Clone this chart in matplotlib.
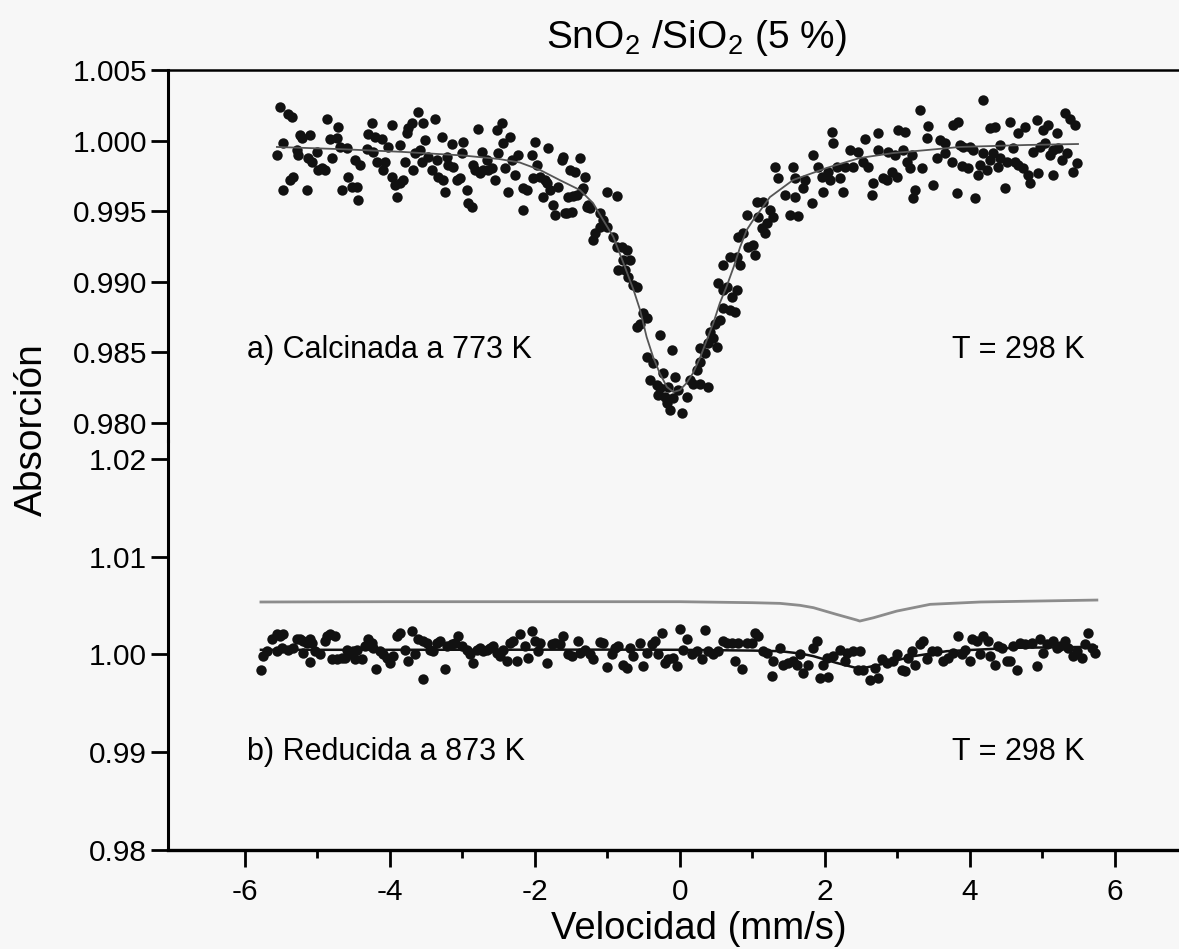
import matplotlib
matplotlib.use("Agg")
import matplotlib.pyplot as plt
from matplotlib.ticker import FormatStrFormatter, FixedLocator

plt.rcParams['font.family'] = ['Liberation Sans', 'DejaVu Sans']
plt.rcParams['mathtext.fontset'] = 'custom'
plt.rcParams['mathtext.rm'] = 'Liberation Sans'
plt.rcParams['mathtext.it'] = 'Liberation Sans:italic'
plt.rcParams['axes.unicode_minus'] = False

# ---------------- data: (a) calcinada a 773 K ----------------
calc_vel = [
    -5.517, -5.402, -5.356, -5.554, -5.471, -5.480, -5.379, -5.333, -5.241, -5.218,
    -5.103, -5.287, -5.264, -5.149, -5.126, -5.080, -5.012, -4.989, -4.943, -4.897,
    -4.864, -4.828, -4.805, -4.736, -4.713, -4.690, -4.667, -4.598, -4.575, -4.529,
    -4.483, -4.460, -4.437, -4.414, -4.322, -4.299, -4.253, -4.230, -4.207, -4.184,
    -4.115, -4.092, -4.069, -4.023, -3.977, -3.977, -3.931, -3.908, -3.862, -3.862,
    -3.816, -3.793, -3.770, -3.747, -3.701, -3.678, -3.655, -3.609, -3.586, -3.563,
    -3.540, -3.517, -3.471, -3.425, -3.379, -3.356, -3.333, -3.287, -3.264, -3.241,
    -3.218, -3.195, -3.149, -3.126, -3.081, -3.035, -3.012, -2.989, -2.943, -2.920,
    -2.874, -2.851, -2.828, -2.782, -2.759, -2.736, -2.713, -2.667, -2.644, -2.598,
    -2.552, -2.529, -2.506, -2.460, -2.437, -2.414, -2.368, -2.345, -2.322, -2.276,
    -2.230,
    -2.161, -2.115, -2.161, -2.046, -2.000, -1.977, -2.023, -1.931, -1.862, -1.816,
    -1.793, -1.885, -1.747, -1.724, -1.678, -1.632, -1.609, -1.586, -1.517, -1.494,
    -1.448, -1.425, -1.380, -1.357, -1.311, -1.288, -1.242, -1.012, -0.874,
    -1.839, -1.540, -1.471, -1.563, -1.265, -1.334,
    -1.104, -1.058, -1.012, -1.104, -1.173, -1.196, -0.920, -0.874, -0.805, -0.736,
    -0.782, -0.851, -0.759, -0.690, -0.713, -0.644, -0.598, -0.506, -0.460, -0.552,
    -0.598, -0.276, -0.115, -0.460, -0.368, -0.414, -0.322, -0.230, -0.161, -0.276,
    -0.299, -0.207, -0.184, -0.138, -0.092, -0.069, 0.023, -0.023, 0.092, 0.138,
    0.184, 0.276, 0.391,
    0.230, 0.276, 0.276, 0.345, 0.391, 0.414, 0.460, 0.506, 0.483, 0.552,
    0.598, 0.529, 0.598, 0.644, 0.690, 0.759, 0.713, 0.782, 0.598, 0.690,
    0.782, 0.828, 0.805, 0.873, 0.942, 1.011, 1.034, 0.919, 1.080, 1.126,
    1.195, 1.172, 1.057, 1.149, 1.241, 1.287, 1.310, 1.356,
    1.517, 1.632, 1.563, 1.586, 1.448, 1.586, 1.701, 1.724, 1.816, 1.839,
    1.908, 1.954, 1.977, 2.046, 2.069, 2.115, 2.092, 2.160, 2.206, 2.252,
    2.275, 2.344, 2.390, 2.459, 2.528, 2.551, 2.597, 2.643, 2.666, 2.735,
    2.735, 2.804, 2.850, 2.873, 2.919, 2.965, 2.988, 3.011, 3.080, 3.103,
    3.126, 3.172, 3.195, 3.218, 3.241, 3.310, 3.333, 3.402, 3.425, 3.494,
    3.540, 3.586, 3.655, 3.747, 3.770, 3.816, 3.839, 3.885, 3.908, 3.977,
    4.046, 4.069, 4.115, 4.138, 4.183, 4.183, 4.229, 4.275, 4.344, 4.321,
    4.390, 4.413, 4.482, 4.505, 4.551, 4.620, 4.666, 4.666, 4.735, 4.758,
    4.804, 4.827, 4.873, 4.919, 4.942, 5.011, 5.034, 5.080, 5.103, 5.149,
    5.195, 5.218, 5.264, 5.310, 5.333, 5.379, 5.425, 5.448, 5.471,
    3.862, 4.000, 4.597, 4.965, 5.149, 3.655, 4.275, 4.413,
]
calc_abs = [
    1.00235, 1.00188, 1.00169, 0.99898, 0.99980, 0.99650, 0.99721, 0.99739, 1.00039, 1.00016,
    1.00039, 0.99933, 0.99898, 0.99650, 0.99874, 0.99850, 0.99921, 0.99791, 0.99803, 0.99791,
    1.00153, 1.00009, 0.99874, 1.00016, 1.00098, 0.99957, 0.99650, 0.99945, 0.99744, 0.99673,
    0.99862, 0.99673, 0.99579, 0.99827, 0.99938, 1.00044, 1.00127, 0.99921, 1.00027, 0.99850,
    1.00009, 0.99791, 0.99850, 0.99952, 1.00110, 0.99744, 0.99685, 0.99602, 0.99697, 0.99968,
    0.99721, 0.99850, 1.00051, 1.00087, 1.00122, 0.99791, 0.99909, 1.00205, 0.99933, 0.99850,
    1.00127, 1.00004, 0.99886, 0.99791, 1.00150, 0.99862, 0.99744, 1.00023, 0.99721, 0.99638,
    0.99886, 0.99827, 0.99976, 0.99815, 0.99721, 0.99732, 0.99909, 0.99992, 0.99650, 0.99555,
    0.99532, 0.99827, 0.99791, 1.00079, 0.99768, 0.99921, 0.99791, 0.99862, 0.99791, 0.99803,
    0.99721, 1.00075, 0.99909, 1.00127, 0.99980, 0.99803, 0.99638, 1.00023, 0.99862, 0.99756,
    0.99898,
    0.99662, 0.99650, 0.99508, 0.99898, 0.99992, 0.99827, 0.99732, 0.99744, 0.99721, 0.99945,
    0.99650, 0.99602, 0.99543, 0.99473, 0.99673, 0.99862, 0.99886, 0.99484, 0.99791, 0.99496,
    0.99780, 0.99614, 0.99874, 0.99650, 0.99744, 0.99532, 0.99520, 0.99638, 0.99607,
    0.99697, 0.99602, 0.99607, 0.99489, 0.99543, 0.99662,
    0.99484, 0.99437, 0.99390, 0.99390, 0.99343, 0.99296, 0.99319, 0.99248, 0.99248, 0.99225,
    0.99154, 0.99083, 0.99083, 0.99154, 0.99036, 0.98977, 0.98965, 0.98776, 0.98741, 0.98705,
    0.98682, 0.98623, 0.98516, 0.98469, 0.98422, 0.98304, 0.98269, 0.98351, 0.98257, 0.98245,
    0.98198, 0.98186, 0.98139, 0.98092, 0.98174, 0.98328, 0.98068, 0.98233, 0.98186, 0.98304,
    0.98280, 0.98280, 0.98257,
    0.98375, 0.98434, 0.98528, 0.98493, 0.98564, 0.98646, 0.98599, 0.98540, 0.98705, 0.98729,
    0.98812, 0.98989, 0.98941, 0.98965, 0.98800, 0.98788, 0.98894, 0.98941, 0.99119, 0.99178,
    0.99178, 0.99119, 0.99319, 0.99343, 0.99248, 0.99260, 0.99189, 0.99473, 0.99461, 0.99378,
    0.99414, 0.99343, 0.99567, 0.99567, 0.99508, 0.99461, 0.99815, 0.99732,
    0.99473, 0.99466, 0.99810, 0.99732, 0.99614, 0.99602, 0.99662, 0.99721, 0.99560, 0.99898,
    0.99815, 0.99739, 0.99638, 0.99780, 0.99721, 0.99980, 1.00063, 0.99815, 0.99732, 0.99638,
    0.99815, 0.99933, 0.99815, 0.99921, 0.99850, 1.00009, 0.99815, 0.99614, 0.99697, 1.00056,
    0.99933, 0.99732, 0.99721, 0.99921, 0.99780, 0.99898, 0.99744, 1.00075, 0.99933, 1.00063,
    0.99850, 0.99803, 0.99898, 0.99591, 0.99650, 1.00216, 0.99803, 1.00016, 1.00103, 0.99685,
    0.99874, 1.00004, 0.99980, 0.99850, 1.00110, 0.99626, 1.00134, 0.99820, 0.99957, 0.99803,
    0.99933, 0.99591, 0.99756, 0.99827, 1.00287, 0.99909, 0.99791, 1.00087, 1.00098, 0.99909,
    0.99815, 0.99968, 0.99662, 0.99850, 1.00134, 0.99850, 0.99827, 1.00051, 0.99803, 1.00098,
    0.99756, 0.99697, 0.99921, 1.00146, 0.99768, 1.00075, 0.99980, 1.00110, 0.99898, 0.99756,
    1.00051, 0.99945, 0.99862, 1.00193, 0.99909, 1.00150, 0.99780, 1.00110, 0.99839,
    0.99968, 0.99957, 0.99945, 0.99957, 0.99933, 0.99909, 0.99862, 0.99874,
]
calc_fit_vel = [-5.56, -4.70, -3.86, -3.00, -2.50, -2.21, -1.93, -1.66, -1.38, -1.20,
                -1.06, -0.92, -0.78, -0.64, -0.55, -0.46, -0.37, -0.28, -0.18, -0.09,
                0.00, 0.09, 0.18, 0.28, 0.37, 0.46, 0.55, 0.64, 0.74, 0.83,
                0.92, 1.01, 1.10, 1.24, 1.56, 2.02, 2.48, 2.94, 3.40, 3.86,
                4.32, 4.78, 5.49]
calc_fit_abs = [0.99955, 0.99940, 0.99921, 0.99895, 0.99870, 0.99845, 0.99792, 0.99721, 0.99650, 0.99558,
                0.99438, 0.99319, 0.99133, 0.98942, 0.98800, 0.98609, 0.98467, 0.98354, 0.98255, 0.98220,
                0.98234, 0.98283, 0.98354, 0.98467, 0.98588, 0.98708, 0.98850, 0.98963, 0.99105, 0.99247,
                0.99367, 0.99438, 0.99500, 0.99600, 0.99721, 0.99806, 0.99877, 0.99912, 0.99933, 0.99955,
                0.99962, 0.99969, 0.99976]

# ---------------- data: (b) reducida a 873 K ----------------
red_vel = [
    -5.784, -5.747, -5.701, -5.632, -5.563, -5.517, -5.471, -5.563, -5.494, -5.402,
    -5.333, -5.287, -5.241, -5.195, -5.149, -5.103, -5.080, -5.195, -5.103, -5.034,
    -4.966, -4.897, -4.874, -4.828, -4.759, -4.805, -4.736, -4.667, -4.621, -4.598,
    -4.552, -4.506, -4.460, -4.483, -4.391, -4.345, -4.299, -4.253, -4.230, -4.198,
    -4.138, -4.092, -4.046, -4.000, -3.954, -3.908, -3.862, -3.793, -3.747, -3.701,
    -3.655, -3.609, -3.540, -3.494, -3.540, -3.448, -3.402, -3.356, -3.310, -3.241,
    -3.218, -3.149, -3.103, -3.057, -3.012, -2.943, -2.897, -2.851, -2.805, -2.759,
    -2.713, -2.667, -2.621, -2.575, -2.529, -2.483, -2.437, -2.391, -2.345, -2.299,
    -2.253,
    -2.207, -2.092, -2.046, -2.138, -2.000, -1.931, -1.954, -1.839, -1.770, -1.724,
    -1.655, -1.609, -1.540, -1.494, -1.403, -1.380, -1.311, -1.242, -1.196, -1.104,
    -1.058, -1.012, -0.943, -0.897, -0.851, -0.782, -0.736, -0.690, -0.644, -0.552,
    -0.506, -0.460, -0.391, -0.345, -0.299, -0.253, -0.207, -0.161, -0.092, -0.046,
    0.000, 0.046, 0.092, 0.161, 0.230, 0.299, 0.345, 0.391, 0.460, 0.529,
    0.598, 0.644, 0.713, 0.759, 0.805, 0.850, 0.919, 0.988, 1.034, 1.080,
    1.149, 1.195, 1.264, 1.287, 1.379, 1.425, 1.494, 1.563, 1.609,
    1.701, 1.655, 1.770, 1.839, 1.885, 1.977, 1.931, 2.046, 2.023, 2.115,
    2.207, 2.276, 2.299, 2.391, 2.482, 2.459, 2.528, 2.620, 2.689, 2.735,
    2.781, 2.850, 2.942, 2.988, 3.057, 3.103, 3.149, 3.195, 3.241, 3.310,
    3.356, 3.402, 3.471, 3.540, 3.632, 3.701, 3.770, 3.839, 3.885, 3.931,
    3.996, 4.023, 4.092, 4.184, 4.253, 4.138, 4.276, 4.345, 4.391, 4.437,
    4.505, 4.551, 4.597, 4.643, 4.689, 4.758, 4.850, 4.919, 4.965, 5.011,
    5.057, 5.149, 5.195, 5.241, 5.310, 5.356, 5.425, 5.471, 5.540, 5.586,
    5.632, 5.678, 5.724,
]
red_abs = [
    0.99839, 0.99983, 1.00034, 1.00154, 1.00205, 1.00188, 1.00205, 1.00034, 1.00068, 1.00051,
    1.00068, 1.00154, 1.00154, 1.00137, 1.00120, 1.00154, 1.00120, 1.00017, 0.99921, 1.00034,
    1.00000, 1.00137, 1.00188, 1.00205, 1.00188, 0.99949, 0.99949, 0.99966, 0.99966, 1.00051,
    1.00000, 1.00034, 1.00051, 0.99949, 0.99949, 1.00085, 1.00154, 1.00120, 1.00068, 0.99853,
    1.00034, 1.00000, 0.99966, 0.99914, 0.99983, 1.00188, 1.00222, 1.00051, 0.99932, 1.00239,
    1.00000, 1.00154, 1.00137, 1.00120, 0.99750, 1.00051, 1.00034, 1.00120, 1.00137, 0.99856,
    1.00085, 1.00103, 1.00120, 1.00188, 1.00085, 1.00051, 1.00000, 0.99914, 1.00051, 1.00068,
    1.00034, 1.00051, 1.00068, 1.00085, 1.00017, 0.99983, 1.00051, 0.99938, 1.00120, 1.00137,
    0.99932,
    1.00205, 0.99966, 1.00239, 1.00085, 1.00137, 1.00120, 1.00034, 0.99914, 1.00103, 1.00120,
    1.00103, 1.00188, 1.00000, 0.99983, 1.00137, 1.00017, 1.00051, 1.00000, 0.99949, 1.00127,
    1.00120, 0.99873, 1.00000, 1.00068, 1.00085, 0.99897, 0.99863, 1.00068, 0.99983, 1.00120,
    0.99887, 1.00017, 1.00103, 1.00137, 1.00000, 1.00222, 0.99914, 0.99949, 0.99966, 0.99887,
    1.00263, 1.00051, 1.00154, 1.00000, 1.00034, 0.99949, 1.00250, 1.00034, 1.00000, 1.00034,
    1.00137, 1.00120, 1.00120, 0.99932, 1.00120, 0.99853, 1.00120, 1.00120, 1.00222, 1.00188,
    1.00034, 1.00017, 0.99785, 0.99932, 1.00068, 0.99897, 0.99914, 0.99932, 0.99897,
    0.99812, 1.00000, 0.99897, 1.00068, 1.00137, 0.99897, 0.99761, 0.99771, 0.99966, 0.99983,
    1.00051, 0.99932, 1.00017, 1.00034, 1.00034, 0.99846, 0.99846, 0.99744, 0.99863, 0.99761,
    0.99949, 0.99914, 0.99932, 1.00000, 0.99846, 0.99829, 0.99966, 1.00034, 0.99897, 1.00103,
    1.00137, 0.99949, 1.00034, 1.00034, 0.99932, 0.99966, 1.00017, 1.00188, 1.00000, 1.00051,
    0.99932, 1.00154, 1.00137, 1.00188, 1.00137, 1.00000, 0.99983, 0.99897, 1.00085, 1.00068,
    0.99932, 0.99932, 1.00085, 0.99846, 1.00120, 1.00103, 1.00120, 0.99880, 1.00154, 1.00017,
    1.00103, 1.00137, 1.00068, 1.00085, 1.00137, 1.00068, 0.99983, 1.00034, 0.99966, 1.00103,
    1.00222, 1.00068, 1.00017,
]
red_fit_vel = [-5.78, -4.00, -2.00, -1.00, 0.00, 1.00, 1.38, 1.66, 1.84, 2.16,
               2.48, 2.76, 3.22, 3.68, 4.60, 5.75]
red_fit_abs = [1.00048, 1.00048, 1.00049, 1.00050, 1.00048, 1.00040, 1.00034, 1.00010, 0.99983, 0.99914,
               0.99853, 0.99897, 0.99983, 1.00034, 1.00068, 1.00079]
ref_vel = [-5.78, -4.00, -2.00, 0.00, 1.00, 1.38, 1.655, 1.84, 2.16, 2.44,
           2.48, 2.67, 2.99, 3.45, 4.14, 5.75]
ref_abs = [1.00537, 1.00540, 1.00540, 1.00540, 1.00530, 1.00523, 1.00503, 1.00479, 1.00410, 1.00352,
           1.00342, 1.00376, 1.00444, 1.00513, 1.00537, 1.00557]

x_major = [-6, -4, -2, 0, 2, 4, 6]
x_minor = [-5, -3, -1, 1, 3, 5]
top_yticks = [0.980, 0.985, 0.990, 0.995, 1.000, 1.005]
bot_yticks = [0.98, 0.99, 1.00, 1.01, 1.02]

# ---------------- figure ----------------
W, H = 1179, 949
fig = plt.figure(figsize=(W / 100, H / 100), dpi=100, facecolor='#f7f7f7')
L = 168 / W
axt = fig.add_axes([L, 1 - 441 / H, 1 - L, (441 - 70) / H])
axb = fig.add_axes([L, 1 - 850 / H, 1 - L, (850 - 441) / H])

xlim = (-7.062, 6.883)
for ax in (axt, axb):
    ax.set_facecolor('none')
    ax.set_xlim(*xlim)
    ax.spines['right'].set_visible(False)
    ax.spines['left'].set_linewidth(2.2)
    ax.tick_params(axis='y', direction='out', length=12, width=2, pad=3, labelsize=21.5)

# top panel
axt.set_ylim(0.97873, 1.005)
axt.spines['bottom'].set_visible(False)
axt.spines['top'].set_linewidth(1.8)
axt.tick_params(axis='x', bottom=False, labelbottom=False)
axt.set_yticks(top_yticks)
axt.yaxis.set_major_formatter(FormatStrFormatter('%.3f'))
axt.plot(calc_vel, calc_abs, 'o', color='#111111', ms=7.5, mec='none', zorder=2)
axt.plot(calc_fit_vel, calc_fit_abs, '-', color='#555555', lw=1.3, zorder=3)
axt.text(-5.97, 0.98517, 'a) Calcinada a 773 K', fontsize=22, va='center', ha='left')
axt.text(5.586, 0.98517, 'T = 298 K', fontsize=22, va='center', ha='right')

# bottom panel
axb.set_ylim(0.98, 1.02184)
axb.spines['top'].set_visible(False)
axb.spines['bottom'].set_linewidth(2.4)
axb.set_yticks(bot_yticks)
axb.yaxis.set_major_formatter(FormatStrFormatter('%.2f'))
axb.set_xticks(x_major)
axb.xaxis.set_minor_locator(FixedLocator(x_minor))
axb.tick_params(axis='x', which='major', direction='out', length=12, width=2, pad=8, labelsize=21.5)
axb.tick_params(axis='x', which='minor', direction='out', length=6, width=2)
axb.plot(ref_vel, ref_abs, '-', color='#8c8c8c', lw=2.0, zorder=2)
axb.plot(red_vel, red_abs, 'o', color='#111111', ms=7.5, mec='none', zorder=2)
axb.plot(red_fit_vel, red_fit_abs, '-', color='#111111', lw=1.8, zorder=3)
axb.text(-5.97, 0.99005, 'b) Reducida a 873 K', fontsize=22, va='center', ha='left')
axb.text(5.586, 0.99005, 'T = 298 K', fontsize=22, va='center', ha='right')

fig.text(696 / W, 1 - 38 / H, 'SnO$_2$ /SiO$_2$ (5 %)', fontsize=28, ha='center', va='center')
fig.text(699 / W, 1 - 929 / H, 'Velocidad (mm/s)', fontsize=27.5, ha='center', va='center')
fig.text(32 / W, 1 - 430 / H, 'Absorción', fontsize=28, ha='center', va='center', rotation=90)

fig.savefig('out.png', dpi=100, facecolor=fig.get_facecolor())
